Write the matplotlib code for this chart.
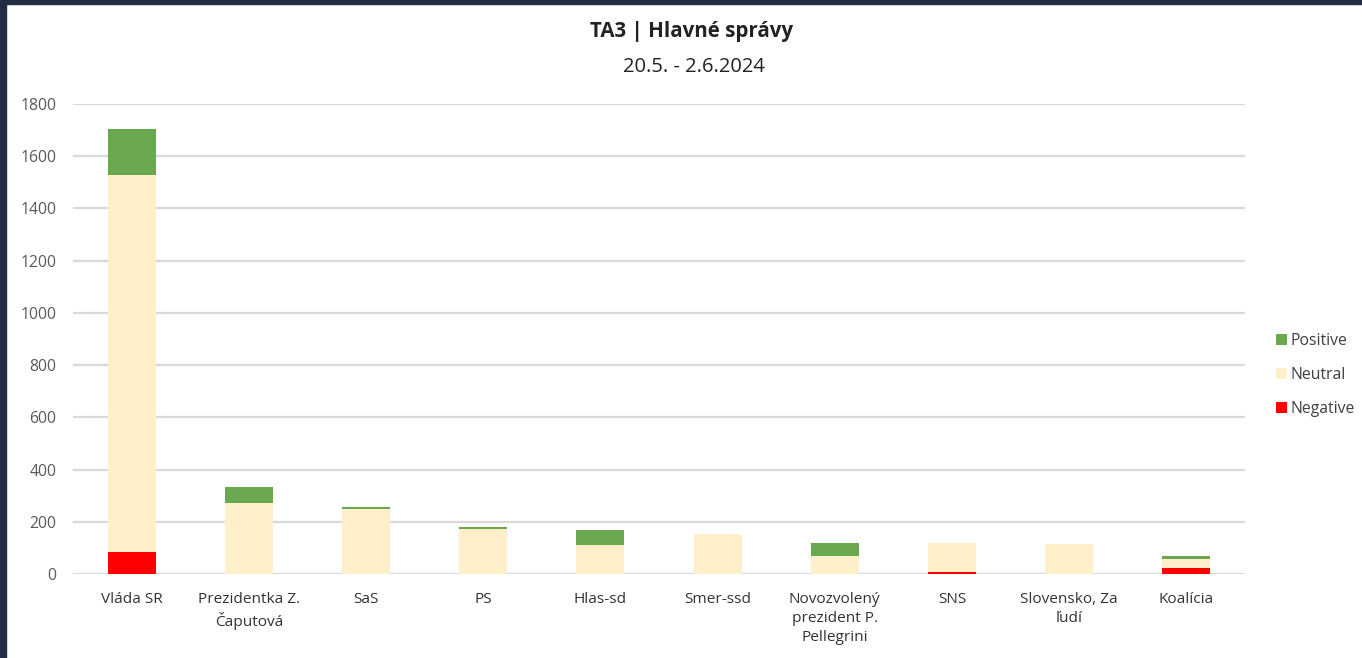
import matplotlib.pyplot as plt
import numpy as np
from matplotlib.patches import Rectangle

# data
kategorie = ["Vláda SR", "Prezidentka Z.\nČaputová", "SaS", "PS", "Hlas-sd", "Smer-ssd",
             "Novozvolený\nprezident P.\nPellegrini", "SNS", "Slovensko, Za\nľudí", "Koalícia"]
negative = [84, 0, 0, 0, 0, 0, 0, 9, 0, 22]
neutral = [1445, 271, 248, 174, 110, 153, 70, 109, 114, 35]
positive = [175, 61, 10, 6, 58, 0, 48, 0, 0, 12]

plt.rcParams['font.family'] = ['Open Sans', 'DejaVu Sans']

fig = plt.figure(figsize=(13.62, 6.58), dpi=100)
ax = fig.add_axes([73 / 1362, 1 - 574 / 658, (1245 - 73) / 1362, 470 / 658])

x = np.arange(len(kategorie))
neg = np.array(negative)
neu = np.array(neutral)
pos = np.array(positive)
sirka = 0.41

ax.bar(x, neg, sirka, color='#ff0000', label='Negative', zorder=3)
ax.bar(x, neu, sirka, bottom=neg, color='#ffefcb', label='Neutral', zorder=3)
ax.bar(x, pos, sirka, bottom=neg + neu, color='#6aa84f', label='Positive', zorder=3)

ax.set_xlim(-0.5, len(kategorie) - 0.5)
ax.set_ylim(0, 1800)
ax.set_yticks(np.arange(0, 1801, 200))
ax.grid(axis='y', color='#d9d9d9', linewidth=1.6, zorder=0)
for s in ax.spines.values():
    s.set_visible(False)
ax.tick_params(axis='both', length=0)
ax.tick_params(axis='y', labelsize=11.3, labelcolor='#595959', pad=12)
ax.set_xticks(x)
ax.set_xticklabels(kategorie, fontsize=11.1, color='#333333', linespacing=1.35)
ax.tick_params(axis='x', pad=13)

# legenda v poradi Positive, Neutral, Negative
h, l = ax.get_legend_handles_labels()
leg = fig.legend(h[::-1], l[::-1], loc='center left', bbox_to_anchor=(1262 / 1362, 1 - 375 / 658),
                 frameon=False, fontsize=11.3, handlelength=0.7, handleheight=0.7,
                 handletextpad=0.2, labelspacing=1.12, labelcolor='#404040')

fig.text(692 / 1362, 1 - 31 / 658, "TA3 | Hlavné správy", ha='center', va='center',
         fontsize=14.8, fontweight='bold', color='#222222')
fig.text(694 / 1362, 1 - 67 / 658, "20.5. - 2.6.2024", ha='center', va='center',
         fontsize=14.5, color='#222222')

# tmavý okraj hore a vľavo
fig.patches.append(Rectangle((0, 1 - 4 / 658), 1, 4 / 658, transform=fig.transFigure,
                             color='#232d42', zorder=10))
fig.patches.append(Rectangle((0, 0), 6 / 1362, 1, transform=fig.transFigure,
                             color='#232d42', zorder=10))

fig.savefig('out.png', dpi=100)
